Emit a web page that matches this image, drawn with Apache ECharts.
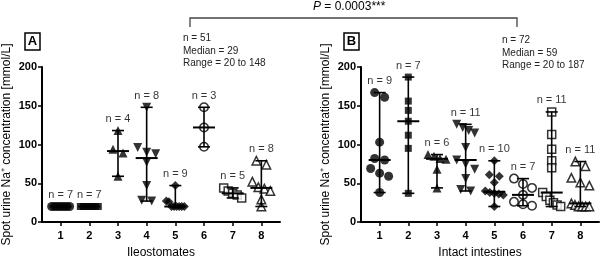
<!DOCTYPE html>
<html>
<head>
<meta charset="utf-8">
<script src="https://cdn.jsdelivr.net/npm/echarts@6/dist/echarts.min.js"></script>
<style>
html, body { margin: 0; padding: 0; background: #fff; }
#chart { width: 602px; height: 264px; }
</style>
</head>
<body>
<div id="chart"></div>
<script>
// values (mmol/L)
const groups = [1, 2, 3, 4, 5, 6, 7, 8];
const ileostomates = [
    [20, 20, 20, 20, 20, 20, 20],
    [20, 20, 20, 20, 20, 20, 20],
    [118, 94, 89, 59],
    [148, 96, 90, 88, 77, 47, 28, 27],
    [47, 27, 26, 20, 20, 20, 20, 20, 20],
    [148, 122, 97],
    [44, 40, 37, 35, 31],
    [79, 74, 52, 45, 43, 40, 29, 20]
];
const intact = [
    [167, 161, 103, 82, 80, 69, 63, 59, 38],
    [187, 156, 144, 130, 112, 95, 37],
    [87, 85, 82, 81, 68, 44],
    [126, 122, 118, 115, 96, 80, 75, 68, 56, 42, 40],
    [79, 61, 59, 51, 40, 38, 37, 36, 35, 20],
    [56, 49, 44, 35, 26, 23, 21],
    [142, 113, 94, 79, 70, 38, 33, 28, 25, 22, 20],
    [78, 72, 57, 51, 47, 24, 22, 20, 20, 20, 20]
];
const yTicks = [0, 50, 100, 150, 200];
const xTitles = ['Ileostomates', 'Intact intestines'];
const panelLetters = ['A', 'B'];
const summaryA = ['n = 51', 'Median = 29', 'Range = 20 to 148'];
const summaryB = ['n = 72', 'Median = 59', 'Range = 20 to 187'];
const pValue = ' = 0.0003***';

const FONT = 'Liberation Sans, Arial, sans-serif';
const X_MIN = 0.35, X_MAX = 8.65;
const grids = [
    {left: 42, top: 67, width: 238, height: 159},
    {left: 361, top: 67, width: 238, height: 159}
];
const pxPerUnit = 238 / (X_MAX - X_MIN);

const marks = [
    {symbol: 'circle', size: 9},
    {symbol: 'rect', size: 7},
    {symbol: 'triangle', size: 9},
    {symbol: 'triangle', size: 9, rotate: 180},
    {symbol: 'diamond', size: 9},
    {symbol: 'circle', size: 8.5, open: true},
    {symbol: 'rect', size: 8, open: true},
    {symbol: 'triangle', size: 8.5, open: true}
];

function median(arr) {
    const s = arr.slice().sort((a, b) => a - b);
    const m = Math.floor(s.length / 2);
    return s.length % 2 ? s[m] : (s[m - 1] + s[m]) / 2;
}

// spread close values sideways (pixel offsets), like a column scatter
function spread(vals) {
    const sorted = vals.map((v, i) => ({v, i})).sort((a, b) => b.v - a.v);
    const out = new Array(vals.length).fill(0);
    let cluster = [];
    const flush = () => {
        const k = cluster.length;
        const step = k > 1 ? Math.min(10, 18 / (k - 1)) : 0;
        cluster.forEach((p, j) => { out[p.i] = (j - (k - 1) / 2) * step; });
        cluster = [];
    };
    sorted.forEach(p => {
        if (cluster.length && cluster[cluster.length - 1].v - p.v >= 8) flush();
        cluster.push(p);
    });
    flush();
    return out;
}

const series = [];
[ileostomates, intact].forEach((panel, pi) => {
    panel.forEach((vals, gi) => {
        const m = marks[gi];
        const offs = spread(vals);
        series.push({
            type: 'scatter',
            xAxisIndex: pi, yAxisIndex: pi,
            symbol: m.symbol,
            symbolSize: m.size,
            symbolRotate: m.rotate || 0,
            itemStyle: m.open
                ? {color: '#fff', borderColor: '#000', borderWidth: 1.5}
                : {color: '#000'},
            data: vals.map((v, i) => [groups[gi] + offs[i] / pxPerUnit, v]),
            z: 2
        });
    });
    // median with range
    series.push({
        type: 'custom',
        xAxisIndex: pi, yAxisIndex: pi,
        data: panel.map((vals, gi) => [groups[gi], Math.min(...vals), median(vals), Math.max(...vals)]),
        renderItem: (params, api) => {
            const x = api.value(0);
            const lo = api.coord([x, api.value(1)]);
            const md = api.coord([x, api.value(2)]);
            const hi = api.coord([x, api.value(3)]);
            const st = {stroke: '#000', lineWidth: 1.6};
            return {
                type: 'group',
                children: [
                    {type: 'line', shape: {x1: hi[0], y1: hi[1], x2: lo[0], y2: lo[1]}, style: st},
                    {type: 'line', shape: {x1: hi[0] - 6, y1: hi[1], x2: hi[0] + 6, y2: hi[1]}, style: st},
                    {type: 'line', shape: {x1: lo[0] - 6, y1: lo[1], x2: lo[0] + 6, y2: lo[1]}, style: st},
                    {type: 'line', shape: {x1: md[0] - 11, y1: md[1], x2: md[0] + 11, y2: md[1]}, style: {stroke: '#000', lineWidth: 2}}
                ]
            };
        },
        z: 3
    });
    // n labels
    series.push({
        type: 'scatter',
        xAxisIndex: pi, yAxisIndex: pi,
        symbolSize: 0,
        data: panel.map((vals, gi) => [groups[gi], Math.max(...vals), vals.length]),
        label: {
            show: true, position: 'top', distance: 6,
            formatter: p => 'n = ' + p.value[2],
            fontFamily: FONT, fontSize: 11, color: '#000'
        },
        silent: true,
        z: 4
    });
});

const xAxes = grids.map((g, i) => ({
    type: 'value', gridIndex: i, min: X_MIN, max: X_MAX,
    name: xTitles[i], nameLocation: 'middle', nameGap: 25,
    nameTextStyle: {fontFamily: FONT, fontSize: 12, color: '#000'},
    axisLine: {lineStyle: {color: '#000', width: 2}},
    axisTick: {show: true, length: 4, lineStyle: {width: 1.5}, customValues: groups},
    axisLabel: {customValues: groups, fontFamily: FONT, fontSize: 11, fontWeight: 'bold', color: '#000', margin: 8},
    splitLine: {show: false}
}));
const yAxes = grids.map((g, i) => ({
    type: 'value', gridIndex: i, min: yTicks[0], max: yTicks[yTicks.length - 1], interval: 50,
    name: 'Spot urine Na\u207A concentration [mmol/L]', nameLocation: 'middle', nameGap: 29,
    nameTextStyle: {fontFamily: FONT, fontSize: 12, color: '#000'},
    axisLine: {show: true, lineStyle: {color: '#000', width: 2}},
    axisTick: {show: true, length: 4, lineStyle: {width: 1.5}},
    axisLabel: {fontFamily: FONT, fontSize: 11, fontWeight: 'bold', color: '#000', margin: 5},
    splitLine: {show: false}
}));

const textStyle = {fontFamily: FONT, fontSize: 10, fill: '#222', lineHeight: 12.5};
const graphic = [
    {type: 'polyline', shape: {points: [[190, 27], [190, 18], [517, 18], [517, 27]]},
     style: {stroke: '#444', lineWidth: 1.3, fill: null}},
    {type: 'text', left: 313, top: 1,
     style: {text: '{i|P}' + pValue, font: '12px ' + FONT, fill: '#000',
             rich: {i: {fontStyle: 'italic', fontFamily: FONT, fontSize: 12}}}},
    {type: 'text', left: 183, top: 32, style: Object.assign({text: summaryA.join('\n')}, textStyle)},
    {type: 'text', left: 502, top: 34, style: Object.assign({text: summaryB.join('\n')}, textStyle)}
];
[25, 344].forEach((x, i) => {
    graphic.push({type: 'rect', shape: {x: x, y: 33, width: 15, height: 17},
                  style: {fill: '#fff', stroke: '#000', lineWidth: 1.5}});
    graphic.push({type: 'text', x: x + 7.5, y: 41.5,
                  style: {text: panelLetters[i], fontFamily: FONT, fontSize: 13, fontWeight: 'bold',
                          fill: '#000', align: 'center', verticalAlign: 'middle'}});
});

const chart = echarts.init(document.getElementById('chart'));
chart.setOption({
    animation: false,
    backgroundColor: '#fff',
    grid: grids,
    xAxis: xAxes,
    yAxis: yAxes,
    series: series,
    graphic: graphic
});
</script>
</body>
</html>
